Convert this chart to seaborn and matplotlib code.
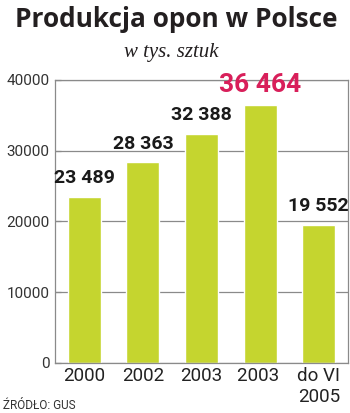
import matplotlib
matplotlib.use("Agg")
import matplotlib.pyplot as plt
import seaborn as sns
import pandas as pd

categories = ["2000", "2002", "2003", "2003 ", "do VI\n2005"]
values = [23489, 28363, 32388, 36464, 19552]
value_labels = ["23 489", "28 363", "32 388", "36 464", "19 552"]
yticks = [0, 10000, 20000, 30000, 40000]

sns.set_theme(style="white")
plt.rcParams['font.family'] = ['Roboto', 'DejaVu Sans']

df = pd.DataFrame({"cat": categories, "val": values})

fig = plt.figure(figsize=(3.5, 4.13), dpi=100)
ax = fig.add_axes([55/350, 1-363/413, 293/350, 283/413])

sns.barplot(data=df, x="cat", y="val", color="#c5d52f", saturation=1, width=0.56, ax=ax, zorder=2)
ax.set_ylim(0, 40000)
ax.set_xlim(-0.5, 4.5)
ax.set_yticks(yticks)
ax.set_yticklabels([str(t) for t in yticks], fontsize=11, color="#333333")
ax.yaxis.grid(True, color="#8a8a8a", linewidth=0.9, zorder=0)
ax.set_axisbelow(True)
ax.tick_params(axis="y", direction="in", length=4, width=0.9, color="#8a8a8a", pad=4, left=True)
ax.tick_params(axis="x", length=0, pad=3, labelsize=13.5, labelcolor="#222222")
ax.set_xlabel("")
ax.set_ylabel("")
for s in ax.spines.values():
    s.set_color("#8a8a8a")
    s.set_linewidth(0.9)

for i, (v, lab) in enumerate(zip(values, value_labels)):
    if i == 3:
        ax.annotate(lab, (i, v), xytext=(0, 6), textcoords="offset points",
                    ha="center", va="bottom", fontsize=19, fontweight="bold",
                    color="#d81f5a", annotation_clip=False)
    else:
        ax.annotate(lab, (i, v), xytext=(0, 7), textcoords="offset points",
                    ha="center", va="bottom", fontsize=14, fontweight="bold",
                    color="#1a1a1a", annotation_clip=False)

fig.text(176/350, 1-27/413, "Produkcja opon w Polsce", ha="center", va="baseline",
         fontsize=18.9, fontweight="bold", family=["Open Sans", "DejaVu Sans"], color="#231f20")
fig.text(171/350, 1-57/413, "w tys. sztuk", ha="center", va="baseline",
         fontsize=15, fontstyle="italic", family=["Liberation Serif"], color="#231f20")
fig.text(3/350, 1-409/413, "ŹRÓDŁO: GUS", ha="left", va="baseline",
         fontsize=8.5, color="#333333")

fig.savefig("out.png", dpi=100)
